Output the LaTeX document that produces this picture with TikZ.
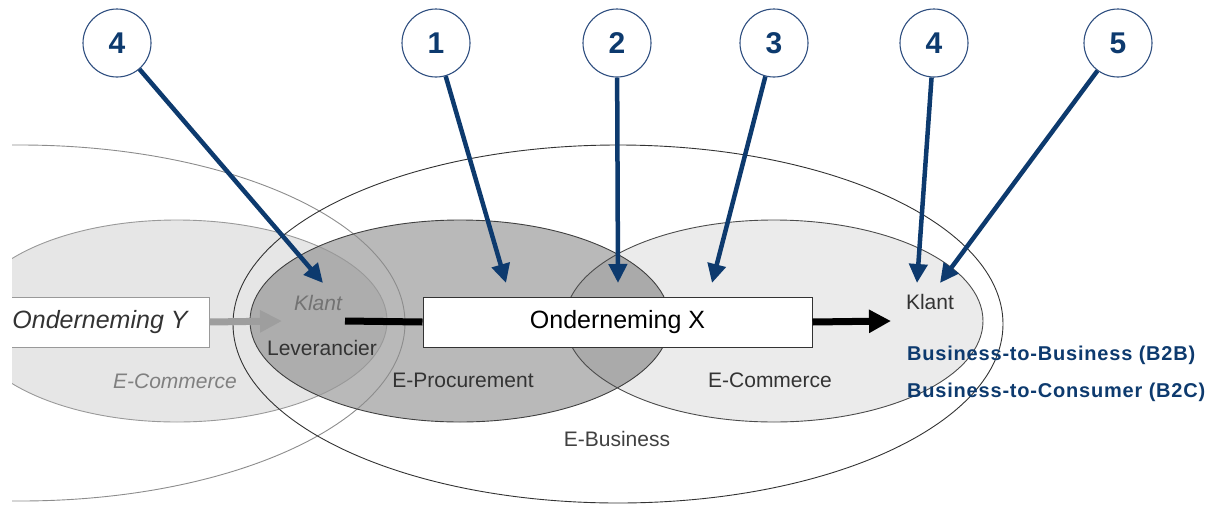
\documentclass[tikz,border=0pt]{standalone}
\usepackage{fontspec}
\setmainfont{Liberation Sans}
\usetikzlibrary{arrows.meta}

\definecolor{navy}{HTML}{0D3A6E}
\definecolor{ringblue}{HTML}{2F4F80}
\definecolor{procfill}{HTML}{B9B9B9}
\definecolor{lensfill}{HTML}{AAAAAA}
\definecolor{levfill}{HTML}{ADADAD}
\definecolor{comXfill}{HTML}{EBEBEB}
\definecolor{comYfill}{HTML}{E6E6E6}

\tikzset{
  numc/.style={circle, draw=ringblue, line width=1.1pt, fill=white,
    minimum size=68pt, inner sep=0pt, text=navy,
    font=\fontsize{30}{30}\selectfont\bfseries},
  pin/.style={draw=navy, line width=4.5pt, line cap=butt,
    -{Triangle[length=19pt,width=18pt]}},
  lbl/.style={inner sep=0pt, text=black!80, font=\fontsize{21}{24}\selectfont},
  ilbl/.style={lbl, text=black!55, font=\fontsize{21}{24}\selectfont\itshape},
  blbl/.style={inner sep=0pt, anchor=west, text=navy,
    font=\fontsize{20}{23}\selectfont\bfseries\addfontfeatures{LetterSpace=4}},
  firm/.style={draw=black!80, line width=1pt, fill=white,
    minimum width=389pt, minimum height=50pt, inner sep=0pt,
    font=\fontsize{25}{28}\selectfont},
  flow/.style={line width=7pt, line cap=butt}
}

\begin{document}
\begin{tikzpicture}[x=1pt,y=-1pt]
\useasboundingbox (0,0) rectangle (1216,504);

\begin{scope}
  \clip (12,0) rectangle (1216,504);
  % fills of the sets
  \fill[comYfill] (177,321) ellipse [x radius=210pt, y radius=101pt];
  \fill[comXfill] (774,321) ellipse [x radius=209pt, y radius=101pt];
  \fill[procfill] (460,321) ellipse [x radius=210pt, y radius=101pt];
  \begin{scope}
    \clip (460,321) ellipse [x radius=210pt, y radius=101pt];
    \fill[lensfill] (774,321) ellipse [x radius=209pt, y radius=101pt];
    \fill[levfill] (177,321) ellipse [x radius=210pt, y radius=101pt];
  \end{scope}
  % outlines
  \draw[black!45, line width=0.9pt] (20,323) ellipse [x radius=385pt, y radius=178pt];
  \draw[black!40, line width=0.9pt] (177,321) ellipse [x radius=210pt, y radius=101pt];
  \draw[black!80, line width=0.9pt] (618,324) ellipse [x radius=385pt, y radius=179pt];
  \draw[black!75, line width=0.9pt] (460,321) ellipse [x radius=210pt, y radius=101pt];
  \draw[black!70, line width=0.9pt] (774,321) ellipse [x radius=209pt, y radius=101pt];

  % the other firm
  \node[draw=black!40, line width=1pt, fill=white, minimum width=218pt,
    minimum height=50pt, inner sep=0pt, text=black!80,
    font=\fontsize{25}{28}\selectfont\itshape] (ondY) at (100,322) {Onderneming Y};
\end{scope}

% central firm
\node[firm] (ondX) at (617.5,322) {Onderneming X};

% set labels
\node[ilbl] (klantL) at (318,303) {Klant};
\node[lbl] (lev) at (322,348) {Leverancier};
\node[ilbl, text=black!50] (ecomY) at (175,381) {E-Commerce};
\node[lbl] (eproc) at (463,380) {E-Procurement};
\node[lbl] (ecomX) at (770,380) {E-Commerce};
\node[lbl, text=black!75] (ebus) at (617,439) {E-Business};
\node[lbl] (klantR) at (930,302) {Klant};
\node[blbl] (b2b) at (907,355) {Business-to-Business (B2B)};
\node[blbl] (b2c) at (907,392) {Business-to-Consumer (B2C)};

% goods flow
\coordinate (levin) at (282,321);
\coordinate (levout) at (345,321);
\coordinate (custin) at (891,321);
\draw[flow, black!38, -{Triangle[length=22pt,width=21pt]}] (ondY.east) -- (levin);
\draw[flow, black] (levout) -- (ondX.west);
\draw[flow, black, -{Triangle[length=22pt,width=22pt]}] (ondX.east) -- (custin);

% numbered markers
\node[numc] (m4a) at (117,43) {4};
\node[numc] (m1) at (436,43) {1};
\node[numc] (m2) at (617,43) {2};
\node[numc] (m3) at (774,43) {3};
\node[numc] (m4b) at (934,43) {4};
\node[numc] (m5) at (1118,43) {5};

\coordinate (t4a) at (323,283);
\coordinate (t1) at (506,283);
\coordinate (t2) at (618,283);
\coordinate (t3) at (712,283);
\coordinate (t4b) at (917,283);
\coordinate (t5) at (940,283);

\draw[pin] (m4a) -- (t4a);
\draw[pin] (m1) -- (t1);
\draw[pin] (m2) -- (t2);
\draw[pin] (m3) -- (t3);
\draw[pin] (m4b) -- (t4b);
\draw[pin] (m5) -- (t5);
\end{tikzpicture}
\end{document}
